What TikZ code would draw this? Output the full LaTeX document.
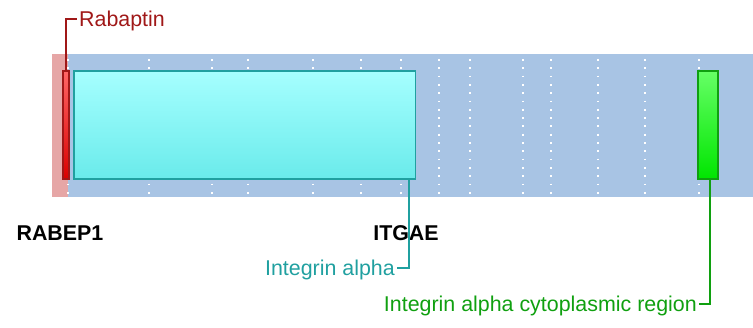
\documentclass[tikz,border=0pt]{standalone}
\usepackage{fontspec}
\setmainfont{Liberation Sans}
\usepackage{tikz}
\usetikzlibrary{positioning}
\newcommand{\domainfont}{\fontsize{21.4}{25}\selectfont}
\definecolor{bandblue}{HTML}{A8C4E4}
\definecolor{bandred}{HTML}{E6A6A6}
\definecolor{rabred}{HTML}{A01818}
\definecolor{itgteal}{HTML}{20A0A0}
\definecolor{cytgreen}{HTML}{10A010}

\begin{document}
\begin{tikzpicture}[
  x=1pt, y=-1pt,
  every node/.style={font=\domainfont},
  domainbox/.style={draw,line width=1.5pt,minimum height=108pt,inner sep=0pt},
  tag/.style={text height=15pt,text depth=0pt,inner sep=2pt},
  gene/.style={tag,font=\domainfont\bfseries},
  leader/.style={line width=2pt},
  gridline/.style={white,line width=1.8pt,dash pattern=on 1.8pt off 6.5pt}
]
\useasboundingbox (0,0) rectangle (753,327);
% background band
\fill[bandred] (52,54) rectangle (68,197);
\fill[bandblue] (68,54) rectangle (753,197);
\foreach \gx in {68,149,212,248,313,361,401,439,470,523,551,598,645,699}
  \draw[gridline] (\gx,59) -- (\gx,197);

% domains
\node[domainbox,draw=rabred,top color=red!60!white,bottom color=red!85!black,minimum width=6pt] (rab) at (66,125) {};
\node[domainbox,draw=itgteal,top color=cyan!35!white,bottom color=cyan!55!white!92!black,minimum width=341.5pt] (itga) at (244.75,125) {};
\node[domainbox,draw=cytgreen,top color=green!60!white,bottom color=green!90!black,minimum width=20pt] (cyto) at (708,125) {};

% gene names
\node[gene] (rabep) at (60,232.5) {RABEP1};
\node[gene] (itgae) at (406,232.5) {ITGAE};

% domain labels
\node[tag,anchor=west,text=rabred] (rablabel) at (77,18.5) {Rabaptin};
\node[tag,anchor=east,text=itgteal] (itgalabel) at (397,267.5) {Integrin alpha};
\node[tag,anchor=east,text=cytgreen] (cytolabel) at (699,303.5) {Integrin alpha cytoplasmic region};

\draw[leader,rabred] (rab.north) |- (rablabel.west);
\draw[leader,itgteal] ([xshift=-7.5pt]itga.south east) |- (itgalabel.east);
\draw[leader,cytgreen] ([xshift=2pt]cyto.south) |- (cytolabel.east);
\end{tikzpicture}
\end{document}
